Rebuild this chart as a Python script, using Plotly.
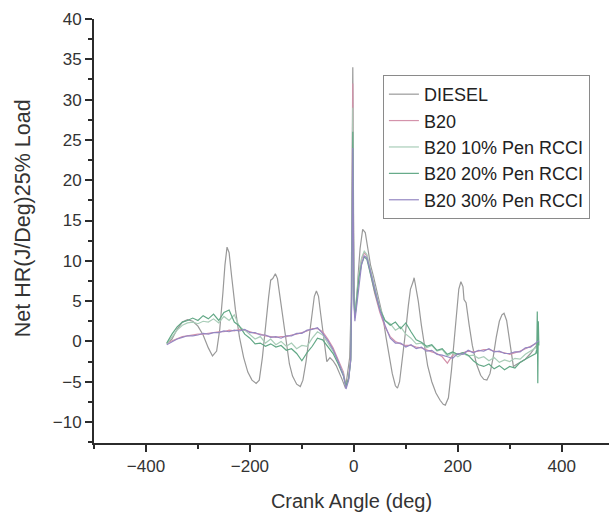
import plotly.graph_objects as go

# ---------------- data ----------------
diesel_ca = [-360, -350, -340, -330, -320, -310, -300, -290, -280, -272, -264, -258, -252, -248,
             -244, -240, -235, -228, -220, -212, -204, -196, -188, -182, -176, -170, -164, -160,
             -156, -151, -147, -142, -136, -130, -124, -118, -110, -103, -98, -92, -86, -80,
             -76, -72, -68, -64, -58, -52, -46, -40, -34, -28, -22, -16, -12, -8, -5, -3,
             -2, -1, 0, 2, 5, 8, 12, 17, 22, 27, 32, 38, 44, 50, 56, 62, 68, 74, 80, 84, 88,
             94, 100, 105, 109, 114, 116, 118, 124, 130, 136, 142, 150, 158, 166, 172, 176, 182,
             188, 194, 198, 202, 206, 210, 212, 216, 222, 228, 236, 244, 250, 256, 262, 268,
             274, 280, 285, 289, 294, 300, 304, 307, 312, 320, 330, 340, 350, 356]
diesel_hr = [-0.3, 0.3, 1.5, 2.4, 2.7, 2.5, 1.9, 0.8, -0.8, -1.8, -1.2, 1.5, 6.0, 9.5,
             11.7, 11.0, 8.0, 4.0, 0.5, -2.0, -3.8, -4.8, -5.2, -4.8, -2.0, 2.0, 5.5, 7.6,
             7.8, 8.4, 7.8, 5.5, 2.5, -0.5, -2.8, -4.3, -5.3, -5.6, -4.8, -2.5, 0.5, 3.8,
             5.6, 6.25, 5.6, 3.5, 0.2, -2.5, -2.0, -2.4, -3.0, -3.8, -4.8, -5.8, -4.0, -2.0, 5.0, 20.0,
             34.0, 22.0, 8.0, 3.0, 4.5, 8.0, 11.5, 13.9, 13.5, 11.5, 9.5, 8.0, 6.2, 4.8, 3.0, 0.5, -2.0, -4.0, -5.5, -5.8, -5.0,
             -2.0, 1.5, 4.5, 6.5, 7.4, 7.9, 7.2, 5.0, 2.0, -0.8, -3.0, -5.0, -6.4, -7.3, -7.8, -7.9, -7.0,
             -3.5, 1.0, 4.5, 6.5, 7.4, 6.8, 5.2, 4.8, 2.0, -0.5, -2.8, -4.2, -4.7, -4.8, -4.0, -2.0,
             0.5, 2.5, 3.3, 3.5, 2.6, 0.0, -2.0, -3.1, -2.9, -2.6, -2.2, -1.5, -0.6, -0.1]

band_ca = [-360, -350, -340, -330, -320, -310, -300, -290, -280, -270, -260, -250, -240, -230,
           -220, -210, -200, -190, -180, -170, -160, -150, -140, -130, -120, -110, -100, -90,
           -80, -70, -60, -50, -40, -30, -20, -15, -10, -6, -4, -2, -1, 0, 2, 5, 10, 15, 20,
           25, 30, 40, 50, 60, 70, 80, 90, 100, 110, 120, 130, 140, 150, 160, 170, 180, 190,
           200, 210, 220, 230, 240, 250, 260, 270, 280, 290, 300, 310, 320, 330, 340, 350, 356]

b20_hr = [-0.2, 0.1, 0.4, 0.6, 0.7, 0.8, 0.9, 0.9, 1.0, 1.1, 1.2, 1.2, 1.4, 1.3,
          1.5, 1.4, 1.2, 1.0, 0.9, 0.7, 0.6, 0.5, 0.6, 0.6, 0.8, 0.9, 1.1, 1.3,
          1.6, 1.6, 1.2, 0.3, -0.8, -2.2, -3.8, -5.6, -4.5, -2.0, 8.0, 32.0, 18.0, 6.0, 3.0, 5.0, 8.5, 10.2, 11.0,
          10.6, 9.0, 6.0, 3.6, 1.8, 0.6, 0.0, -0.3, -0.5, -0.5, -0.7, -0.8, -1.1, -1.3, -1.5, -1.9, -2.7, -1.7,
          -1.6, -1.4, -1.2, -1.3, -1.2, -1.0, -1.0, -1.2, -1.3, -1.4, -1.6, -1.4, -1.2, -0.9, -0.6, -0.3, 0.0]

b20_30_hr = [-0.4, 0.0, 0.3, 0.5, 0.7, 0.7, 0.8, 1.0, 0.9, 1.1, 1.1, 1.3, 1.2, 1.4,
             1.3, 1.5, 1.1, 1.1, 0.8, 0.8, 0.5, 0.6, 0.4, 0.7, 0.7, 1.0, 1.0, 1.4,
             1.5, 1.7, 1.0, 0.1, -1.0, -2.5, -4.2, -5.9, -4.8, -2.3, 6.0, 24.0, 15.0, 5.0, 2.5, 4.2, 7.6, 9.6, 10.6,
             10.4, 9.2, 6.4, 3.9, 2.0, 0.4, -0.2, -0.2, -0.7, -0.4, -0.9, -0.7, -1.2, -1.1, -1.6, -1.7, -1.9, -2.1,
             -1.5, -1.6, -1.1, -1.4, -1.1, -1.2, -0.9, -1.3, -1.2, -1.5, -1.5, -1.3, -1.3, -0.8, -0.7, -0.2, 0.1]

b20_10_hr = [-0.3, 0.6, 1.4, 2.0, 2.3, 2.4, 2.2, 2.5, 2.4, 2.8, 2.3, 3.1, 2.6, 3.3,
             1.8, 1.4, 0.9, 0.3, 0.6, -0.2, 0.3, -0.4, 0.0, -0.6, -0.2, -0.9, -0.5, -0.6,
             0.4, 1.2, 0.8, -0.2, -1.2, -2.6, -4.0, -5.7, -4.6, -2.2, 7.0, 29.0, 17.0, 6.0, 3.5, 5.5, 8.6, 10.4, 11.2,
             10.8, 9.4, 6.6, 4.2, 2.6, 2.2, 1.4, 1.8, 0.9, 0.4, -0.3, -0.2, -0.8, -0.5, -1.2, -1.0, -1.8, -1.4,
             -1.9, -1.5, -1.8, -1.7, -2.1, -1.9, -2.4, -2.0, -2.6, -2.3, -2.5, -2.1, -2.2, -1.6, -1.2, -0.8, 0.0]

b20_20_hr = [-0.2, 0.9, 1.8, 2.4, 2.6, 2.9, 2.6, 3.2, 2.8, 3.4, 2.6, 3.6, 3.9, 2.4,
             1.9, 0.9, 0.4, -0.3, -0.2, -0.6, -0.3, -0.7, -0.5, -1.1, -0.9, -1.5, -2.4, -1.4,
             -0.6, 0.4, 0.2, -0.6, -1.5, -2.8, -4.3, -5.5, -4.6, -2.4, 6.5, 26.0, 16.0, 5.5, 3.0, 5.2, 8.0, 9.6, 10.5,
             10.2, 8.8, 6.2, 4.0, 2.6, 2.0, 2.4, 1.6, 2.3, 1.2, 0.2, -0.1, -0.6, -0.4, -1.1, -0.9, -1.6, -1.3,
             -1.6, -1.4, -1.7, -2.4, -2.9, -3.1, -2.8, -3.4, -3.0, -3.5, -3.1, -3.3, -2.6, -2.2, -1.8, -1.5, 0.0]

# closing spike at the end of the 20% trace
end_spike_ca = [352, 353, 354, 355, 356]
end_spike_hr = [-1.5, 3.7, -5.2, 2.5, -0.5]

series_names = ["DIESEL", "B20", "B20 10% Pen RCCI", "B20 20% Pen RCCI", "B20 30% Pen RCCI"]
series_colors = ["#999999", "#d493ab", "#a9cdb8", "#62a886", "#9587c2"]

x_ticks = [-400, -200, 0, 200, 400]
y_ticks = [-10, -5, 0, 5, 10, 15, 20, 25, 30, 35, 40]

x_title = "Crank Angle (deg)"
y_title = "Net HR(J/Deg)25% Load"

# ---------------- figure ----------------
fig = go.Figure()
series_x = [diesel_ca, band_ca, band_ca, band_ca + end_spike_ca, band_ca]
series_y = [diesel_hr, b20_hr, b20_10_hr, b20_20_hr + end_spike_hr, b20_30_hr]

for i in range(5):
    fig.add_trace(go.Scatter(
        x=series_x[i], y=series_y[i], mode="lines", name=series_names[i],
        line=dict(color=series_colors[i], width=1.2),
    ))

font_family = "Liberation Sans, Arial, sans-serif"
axis_common = dict(
    showline=True, linecolor="#2b2b2b", linewidth=2,
    ticks="outside", ticklen=7, tickwidth=2, tickcolor="#2b2b2b",
    showgrid=False, zeroline=False, mirror=False,
    tickfont=dict(family=font_family, size=17, color="#333333"),
)

fig.update_layout(
    width=609, height=512,
    margin=dict(l=94, r=0, t=19, b=69),
    paper_bgcolor="white", plot_bgcolor="white",
    font=dict(family=font_family, color="#333333"),
    showlegend=True,
    legend=dict(
        x=0.561, y=0.868, xanchor="left", yanchor="top",
        bgcolor="white", bordercolor="#8a8a8a", borderwidth=1,
        font=dict(family=font_family, size=18, color="#222222"),
        tracegroupgap=0,
    ),
    xaxis=dict(
        range=[-500, 491], tickvals=x_ticks,
        minor=dict(dtick=100, tick0=0, ticks="outside", ticklen=4, tickwidth=2, tickcolor="#2b2b2b"),
        title=dict(text=x_title, font=dict(family=font_family, size=20, color="#333333"), standoff=19),
        **axis_common,
    ),
    yaxis=dict(
        range=[-12.6, 40], tickvals=y_ticks,
        minor=dict(dtick=2.5, tick0=0, ticks="outside", ticklen=4, tickwidth=2, tickcolor="#2b2b2b"),
        **axis_common,
    ),
    annotations=[dict(
        text=y_title, textangle=-90, showarrow=False,
        xref="paper", yref="paper",
        x=-0.138, y=0.53, xanchor="center", yanchor="middle",
        font=dict(family=font_family, size=21.5, color="#333333"),
    )],
)

fig.write_html("out.html")
